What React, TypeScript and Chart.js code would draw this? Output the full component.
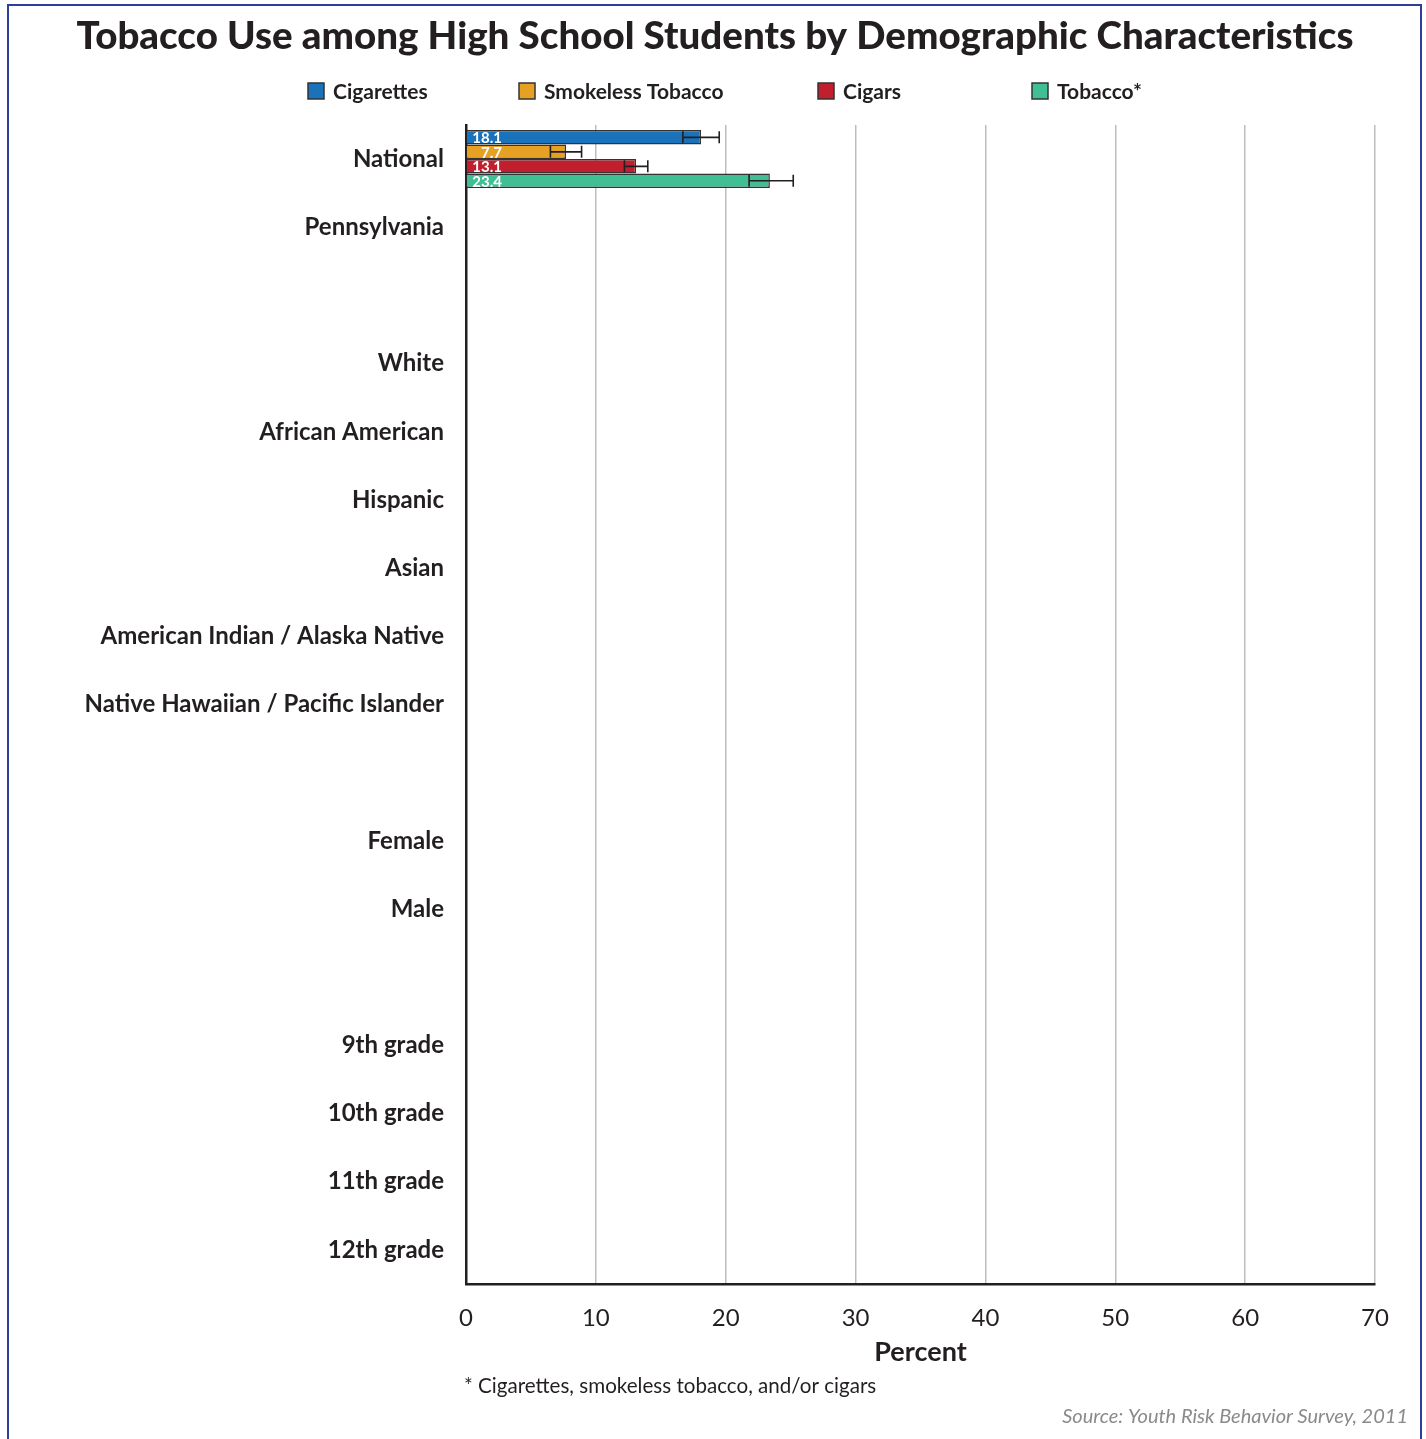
import React, { useEffect, useRef } from "react";
import { Chart, registerables } from "chart.js";

Chart.register(...registerables);

const TITLE = "Tobacco Use among High School Students by Demographic Characteristics";
const FOOTNOTE = "* Cigarettes, smokeless tobacco, and/or cigars";
const SOURCE = "Source: Youth Risk Behavior Survey, 2011";
const X_TITLE = "Percent";

const categories = [
  "National",
  "Pennsylvania",
  "",
  "White",
  "African American",
  "Hispanic",
  "Asian",
  "American Indian / Alaska Native",
  "Native Hawaiian / Pacific Islander",
  "",
  "Female",
  "Male",
  "",
  "9th grade",
  "10th grade",
  "11th grade",
  "12th grade",
];

const seriesNames = ["Cigarettes", "Smokeless Tobacco", "Cigars", "Tobacco*"];
const seriesColors = ["#1a72bb", "#e6a125", "#c11f2e", "#40bf94"];

const N = null;
const cigarettes = [18.1, N, N, N, N, N, N, N, N, N, N, N, N, N, N, N, N];
const smokeless = [7.7, N, N, N, N, N, N, N, N, N, N, N, N, N, N, N, N];
const cigars = [13.1, N, N, N, N, N, N, N, N, N, N, N, N, N, N, N, N];
const tobacco = [23.4, N, N, N, N, N, N, N, N, N, N, N, N, N, N, N, N];

const cigarettesLow = [16.7, N, N, N, N, N, N, N, N, N, N, N, N, N, N, N, N];
const cigarettesHigh = [19.5, N, N, N, N, N, N, N, N, N, N, N, N, N, N, N, N];
const smokelessLow = [6.5, N, N, N, N, N, N, N, N, N, N, N, N, N, N, N, N];
const smokelessHigh = [8.9, N, N, N, N, N, N, N, N, N, N, N, N, N, N, N, N];
const cigarsLow = [12.2, N, N, N, N, N, N, N, N, N, N, N, N, N, N, N, N];
const cigarsHigh = [14.0, N, N, N, N, N, N, N, N, N, N, N, N, N, N, N, N];
const tobaccoLow = [21.8, N, N, N, N, N, N, N, N, N, N, N, N, N, N, N, N];
const tobaccoHigh = [25.2, N, N, N, N, N, N, N, N, N, N, N, N, N, N, N, N];

const seriesValues = [cigarettes, smokeless, cigars, tobacco];
const seriesLow = [cigarettesLow, smokelessLow, cigarsLow, tobaccoLow];
const seriesHigh = [cigarettesHigh, smokelessHigh, cigarsHigh, tobaccoHigh];

const xTicks = [0, 10, 20, 30, 40, 50, 60, 70];

const FONT = "Lato, 'Noto Sans', sans-serif";
const TEXT = "#231f20";
const LEGEND_X = [308, 519, 818, 1032];

const decorPlugin = {
  id: "decor",
  beforeDraw(chart: any) {
    const ctx = chart.ctx;
    ctx.save();
    ctx.fillStyle = "#ffffff";
    ctx.fillRect(0, 0, chart.width, chart.height);
    ctx.strokeStyle = "#2d3f98";
    ctx.lineWidth = 2;
    ctx.beginPath();
    ctx.moveTo(8, chart.height + 2);
    ctx.lineTo(8, 5);
    ctx.lineTo(1421, 5);
    ctx.lineTo(1421, chart.height + 2);
    ctx.stroke();
    ctx.restore();
  },
  afterDraw(chart: any) {
    const ctx = chart.ctx;
    ctx.save();
    // title
    ctx.fillStyle = TEXT;
    ctx.font = `900 38.5px ${FONT}`;
    ctx.textAlign = "center";
    ctx.textBaseline = "middle";
    ctx.fillText(TITLE, 715, 37);
    // legend
    ctx.font = `bold 21px ${FONT}`;
    ctx.textAlign = "left";
    chart.data.datasets.forEach((ds: any, i: number) => {
      const x = LEGEND_X[i];
      ctx.fillStyle = ds.backgroundColor;
      ctx.fillRect(x, 83, 16, 16);
      ctx.strokeStyle = "#333";
      ctx.lineWidth = 1.5;
      ctx.strokeRect(x, 83, 16, 16);
      ctx.fillStyle = TEXT;
      ctx.fillText(ds.label, x + 25, 92);
    });
    // footnote & source
    ctx.font = `20.6px ${FONT}`;
    ctx.fillStyle = TEXT;
    ctx.fillText(FOOTNOTE, 464, 1386);
    ctx.font = `italic 20px ${FONT}`;
    ctx.fillStyle = "#8a8a8a";
    ctx.textAlign = "right";
    ctx.fillText(SOURCE, 1408, 1417);
    ctx.restore();
  },
  afterDatasetsDraw(chart: any) {
    const ctx = chart.ctx;
    const xs = chart.scales.x;
    ctx.save();
    chart.data.datasets.forEach((ds: any, di: number) => {
      const meta = chart.getDatasetMeta(di);
      meta.data.forEach((el: any, i: number) => {
        const v = ds.data[i];
        if (v === null || v === undefined) return;
        const lo = seriesLow[di][i];
        const hi = seriesHigh[di][i];
        const y = el.y;
        if (lo !== null && hi !== null) {
          const x1 = xs.getPixelForValue(lo);
          const x2 = xs.getPixelForValue(hi);
          ctx.strokeStyle = "#231f20";
          ctx.lineWidth = 1.6;
          ctx.beginPath();
          ctx.moveTo(x1, y);
          ctx.lineTo(x2, y);
          ctx.moveTo(x1, y - 6);
          ctx.lineTo(x1, y + 6);
          ctx.moveTo(x2, y - 6);
          ctx.lineTo(x2, y + 6);
          ctx.stroke();
        }
        ctx.fillStyle = "#ffffff";
        ctx.font = `bold 15px ${FONT}`;
        ctx.textAlign = "right";
        ctx.textBaseline = "middle";
        ctx.fillText(v.toFixed(1), xs.getPixelForValue(0) + 36, y + 1);
      });
    });
    ctx.restore();
  },
};

export default function App() {
  const ref = useRef<HTMLCanvasElement | null>(null);

  useEffect(() => {
    if (!ref.current) return;
    const chart = new Chart(ref.current, {
      type: "bar",
      data: {
        labels: categories,
        datasets: seriesNames.map((name, i) => ({
          label: name,
          data: seriesValues[i],
          backgroundColor: seriesColors[i],
          borderColor: "#333333",
          borderWidth: 1.5,
          categoryPercentage: 0.85,
          barPercentage: 1.0,
        })),
      },
      options: {
        animation: false,
        responsive: true,
        maintainAspectRatio: false,
        indexAxis: "y",
        layout: { padding: { top: 125, right: 51, bottom: 71, left: 0 } },
        plugins: {
          legend: { display: false },
          title: { display: false },
          tooltip: { enabled: false },
        },
        scales: {
          x: {
            type: "linear",
            min: 0,
            max: 70,
            afterBuildTicks: (scale: any) => {
              scale.ticks = xTicks.map((v) => ({ value: v }));
            },
            afterFit: (scale: any) => {
              scale.height = 84;
            },
            grid: { color: "#bdbdbd", lineWidth: 1.5, drawTicks: false },
            border: { display: true, color: "#231f20", width: 2.5 },
            ticks: {
              padding: 20,
              color: TEXT,
              font: { family: FONT, size: 24 },
            },
            title: {
              display: true,
              text: X_TITLE,
              color: TEXT,
              padding: 0,
              font: { family: FONT, size: 27, weight: "bold" },
            },
          },
          y: {
            type: "category",
            afterFit: (scale: any) => {
              scale.width = 466;
            },
            grid: { display: false, drawTicks: false },
            border: { display: true, color: "#231f20", width: 2.5 },
            ticks: {
              autoSkip: false,
              padding: 22,
              color: TEXT,
              font: { family: FONT, size: 24, weight: "bold" },
            },
          },
        },
      },
      plugins: [decorPlugin],
    });
    return () => chart.destroy();
  }, []);

  return (
    <div style={{ position: "absolute", left: 0, top: 0, width: 1426, height: 1439 }}>
      <canvas ref={ref} />
    </div>
  );
}
